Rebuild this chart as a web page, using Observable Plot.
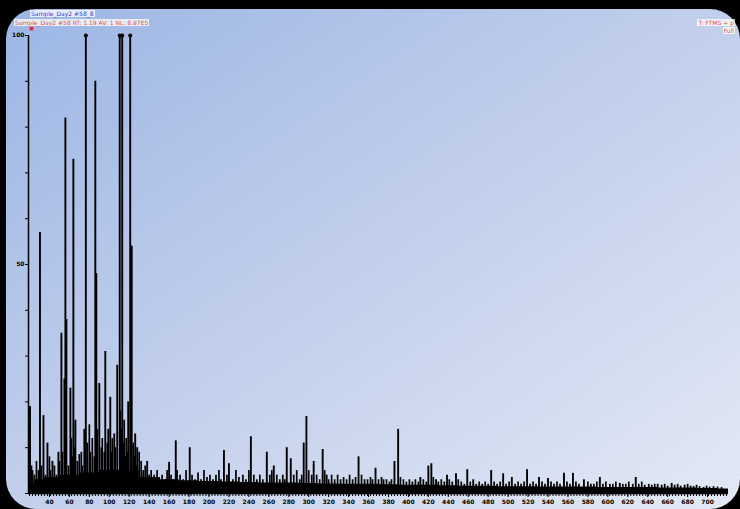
<!DOCTYPE html>
<html><head><meta charset="utf-8">
<script src="https://cdn.jsdelivr.net/npm/d3@7"></script>
<script src="https://cdn.jsdelivr.net/npm/@observablehq/plot@0.6"></script>
<style>
html,body{margin:0;padding:0;background:#000;width:740px;height:509px;overflow:hidden;font-family:"DejaVu Sans",sans-serif;}
#panel{position:absolute;left:6px;top:9px;width:734px;height:500px;border-radius:30px;background:linear-gradient(to bottom right,#9cb6e5 0%,#bfcdeb 45%,#e3e9f5 100%);}
#chart{position:absolute;left:0;top:0;}
.t{position:absolute;font-size:6px;line-height:7px;white-space:nowrap;background:rgba(255,255,255,0.75);padding:0 1px;}
</style></head><body>
<div id="panel"></div>
<div id="chart"></div>
<div class="t" style="left:30px;top:10px;color:#3a3ad8;">Sample_Day2 #58_8</div>
<div class="t" style="left:14px;top:19px;color:#e0504a;">Sample_Day2 #58 RT: 1.19 AV: 1 NL: 8.97E5</div>
<div class="t" style="right:5px;top:19px;color:#e0504a;">T: FTMS + p</div>
<div class="t" style="right:5px;top:27px;color:#e0504a;">Full</div>
<script>
// Major peaks: m/z and relative abundance (%)
const peakMz = [20.5,23,30.5,34,38,43,49,52,55,56,57,61,64,66,70,75,76.5,86,87,90,96,99,101,105,108,110.5,113,116,119,121,122.5,126,128,138,
  160,166.7,180.7,215,220,242,258,265,278,282,295,297.7,305,314,318,350,367,375,386,389.7,412,420,423,427.7,438.7,447.7,459,465,483,495,503.7,519,531,540,556,565,576,592,612,628,650,664,686,696];
const peakInt = [19,5,57,17,11,7,9,35,25,82,38,23,73,16,8.5,14,100,90,48,24,31,14,21,13,28,100,100,8,20,100,54,13,10,7,
  6.8,11.5,10,9.4,6.5,12.4,9,6,10,7.6,11,16.8,7,9.6,4,8,5.5,3,7,14,3.5,6,6.5,3,4,4.3,5.2,3,5,4.3,3.5,5.2,3.5,3.3,4.4,4.4,3,3.5,2.2,3.5,2,2.2,1.5,1.3];
// Small peaks
const smallMz = [22,25,27,29,32,36,40,41,45,47,50,53,59,62,63,65,68,72,73,78,80,81,83,85,88,92,93,95,98,102,103,106,111,112,114,115,117,118,124,125,127,130,132,134,136,140,142,145,148,150,
  153,156,158,162,164,168,171,174,177,183,186,189,192,195,198,201,204,207,210,212,218,224,227,230,234,237,240,245,248,251,254,261,263,268,271,274,276,285,288,291,293,300,303,308,311,316,320,323,326,329,332,335,338,341,344,347,353,356,359,362,364,370,373,378,381,383,392,395,398,401,404,407,410,415,418,425,430,433,436,441,444,450,453,456,462,468,471,474,477,480,486,489,492,498,501,507,510,513,516,522,525,528,534,537,543,546,549,552,559,562,568,571,580,583,586,589,595,598,602,605,608,615,618,621,625,631,634,637,641,644,647,654,657,660,667,670,673,677,680,683,689,692,699,702,706,710,714];
const smallInt = [6,4,7,5,6,4,8,5,6,4,7,9,6,12,8,10,7,9,6,11,15,9,12,8,14,10,12,9,11,9,12,10,18,14,11,16,12,9,11,8,6,9,7,5,6,4,5,4,5,3.5,
  4,3,5,4,3,5,4,3,5,4,3,4.5,3,5,3.5,4,3,4,5,3,4,3,5,3.5,4,3,5,4,3,4,3,4,5,4,3,4,3,4,5,3,4,5,4,4,3,5,3,4,3,4,3,3.5,3,4,3,3.5,4,3,3,3.5,3,3,3.5,3,2.5,3,3.5,3,2.5,3,2.5,3,2.5,3,2.5,3.5,2.5,3,2.5,3,2.5,3,2.5,2,2.5,2,2.5,2,2.5,2,2.5,2,2.5,2,2.5,2,2.5,2,2.5,2,2.5,2,2.5,2,2.5,2,2.5,2,2.5,2,2.5,2,2.5,2,2,2.5,2,2.5,2,2,2.5,2,2,2.5,2,2,2.5,1.8,2,1.8,2,1.8,2,1.6,1.8,2,1.6,1.8,2,1.6,1.8,1.5,1.6,1.4,1.5,1.4,1.3];
// Unresolved noise floor
const floorMz = [19,30,40,60,80,100,120,140,160,180,200,220,240,260,280,300,320,340,360,380,400,420,440,460,480,500,520,540,560,580,600,620,640,660,680,700,721];
const floorInt = [2,3,3.5,4,4.5,5,5,3.5,3,2.8,2.6,2.5,2.4,2.3,2.3,2.2,2.1,2,2,1.9,1.8,1.8,1.7,1.6,1.6,1.5,1.5,1.4,1.4,1.4,1.3,1.3,1.3,1.2,1.2,1.1,1];
// Axis ticks
const xTicks = [40,60,80,100,120,140,160,180,200,220,240,260,280,300,320,340,360,380,400,420,440,460,480,500,520,540,560,580,600,620,640,660,680,700];
const yTicks = [0,10,20,30,40,50,60,70,80,90,100];
const yLabels = [50,100];

const peaks = peakMz.map((m,i)=>({mz:m,int:peakInt[i]}));
const small = smallMz.map((m,i)=>({mz:m,int:smallInt[i]}));
const floor = floorMz.map((m,i)=>({mz:m,int:floorInt[i]}));
const offScale = peaks.filter(d=>d.int>=100);
const minorTicks = d3.range(20,721,3);

const chart = Plot.plot({
  width:740, height:509,
  marginLeft:28, marginRight:12, marginTop:35, marginBottom:16,
  style:{background:"transparent", fontFamily:"DejaVu Sans", fontSize:"6px", color:"#000"},
  x:{domain:[19,721]},
  y:{domain:[0,100]},
  marks:[
    Plot.areaY(floor,{x:"mz",y:"int",fill:"#000",curve:"step"}),
    Plot.ruleX(small,{x:"mz",y1:0,y2:"int",stroke:"#000",strokeWidth:1.7}),
    Plot.ruleX(peaks,{x:"mz",y1:0,y2:"int",stroke:"#000",strokeWidth:1.9,clip:true}),
    Plot.dot(offScale,{x:"mz",y:"int",r:2,fill:"#000",stroke:"none"}),
    Plot.ruleY([0],{stroke:"#000",strokeWidth:1.5}),
    Plot.ruleX([19],{stroke:"#000",strokeWidth:1.5}),
    Plot.axisX({ticks:minorTicks,tickSize:3,tickFormat:()=>"",stroke:"#000"}),
    Plot.axisX({ticks:xTicks,tickSize:4,tickPadding:2,fontSize:6,fontWeight:"bold",label:null,stroke:"#000"}),
    Plot.axisY({ticks:yTicks,tickSize:3,tickPadding:1,fontSize:6,fontWeight:"bold",label:null,stroke:"#000",
      tickFormat:d=>yLabels.includes(d)?String(d):""}),
    Plot.dot([{x:22,y:101.5}],{x:"x",y:"y",symbol:"square",r:2,fill:"#d23",clip:false})
  ]
});
document.getElementById("chart").appendChild(chart);
</script>
</body></html>
